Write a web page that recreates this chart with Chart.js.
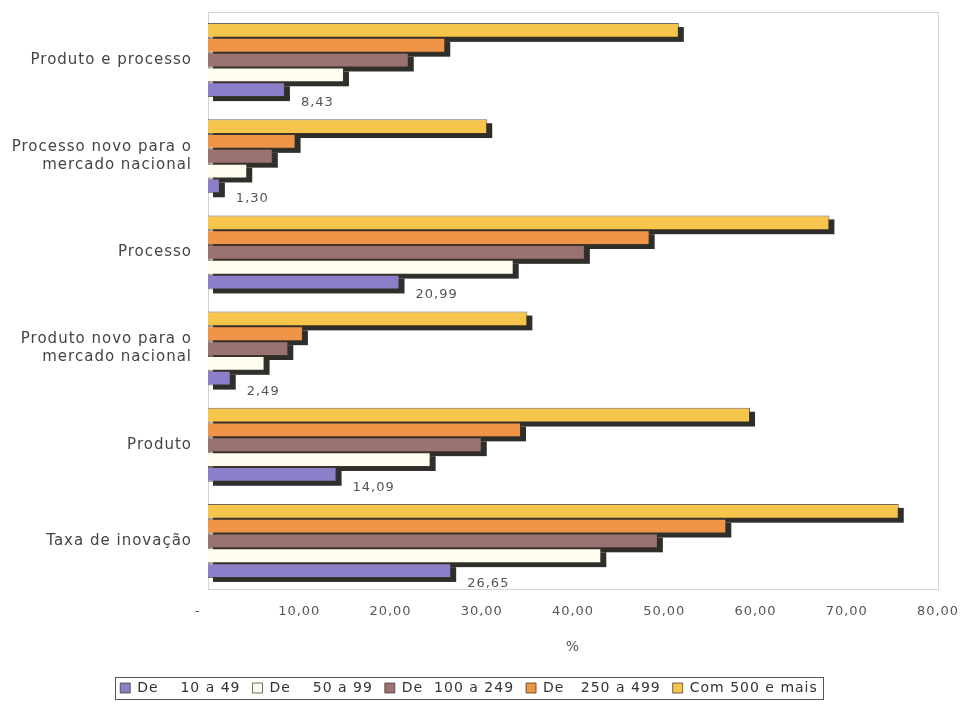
<!DOCTYPE html>
<html>
<head>
<meta charset="utf-8">
<script src="https://cdn.jsdelivr.net/npm/chart.js@4/dist/chart.umd.min.js"></script>
<style>
    html, body { margin: 0; padding: 0; background: #fff; }
    #wrap { width: 965px; height: 705px; }
</style>
</head>
<body>
<div id="wrap"><canvas id="bar-chart"></canvas></div>
<script>
// categorie (dall'alto in basso)
var categories = [
    'Produto e processo',
    ['Processo novo para o', 'mercado nacional'],
    'Processo',
    ['Produto novo para o', 'mercado nacional'],
    'Produto',
    'Taxa de inovação'
];

var seriesNames = ['De    10 a 49', 'De    50 a 99', 'De  100 a 249', 'De   250 a 499', 'Com 500 e mais'];

var de10a49 = [8.43, 1.30, 20.99, 2.49, 14.09, 26.65];
var de50a99 = [14.9, 4.3, 33.5, 6.2, 24.4, 43.1];
var de100a249 = [22.0, 7.1, 41.3, 8.8, 30.0, 49.3];
var de250a499 = [26.0, 9.6, 48.4, 10.4, 34.3, 56.8];
var com500 = [51.6, 30.6, 68.1, 35.0, 59.4, 75.7];

var xTicks = [0, 10, 20, 30, 40, 50, 60, 70, 80];

var colors = ['#8b7fc9', '#fffdf0', '#9b7272', '#ef9548', '#f6c54c'];

var font = 'DejaVu Sans';

function formatNum(v) {
    if (v === 0) return '-    ';
    return v.toFixed(2).replace('.', ',');
}

// il font dell'originale e' piu' largo
var spacingPlugin = {
    id: 'spacing',
    beforeLayout: function (chart) { chart.ctx.letterSpacing = '1px'; },
    beforeDraw: function (chart) { chart.ctx.letterSpacing = '1px'; }
};

// ombra scura sotto le barre
var shadowPlugin = {
    id: 'barShadow',
    beforeDatasetsDraw: function (chart) {
        var ctx = chart.ctx;
        ctx.save();
        ctx.fillStyle = '#2e2e2a';
        chart.data.datasets.forEach(function (ds, i) {
            var meta = chart.getDatasetMeta(i);
            meta.data.forEach(function (bar) {
                var p = bar.getProps(['x', 'y', 'base', 'height'], true);
                ctx.fillRect(p.base + 5, p.y - p.height / 2 + 4, p.x - p.base, p.height);
            });
        });
        ctx.restore();
    }
};

// cornice area grafico + box legenda + etichette serie piccola
var framePlugin = {
    id: 'frame',
    beforeDraw: function (chart) {
        var a = chart.chartArea;
        var ctx = chart.ctx;
        ctx.save();
        ctx.strokeStyle = '#d4d4d4';
        ctx.lineWidth = 1;
        ctx.strokeRect(a.left + 0.5, a.top + 0.5, a.right - a.left, a.bottom - a.top);
        ctx.restore();
    },
    afterDraw: function (chart) {
        var ctx = chart.ctx;
        var boxes = chart.legend.legendHitBoxes;
        if (boxes && boxes.length) {
            var l = boxes[0].left, r = boxes[0].left + boxes[0].width;
            var t = boxes[0].top, b = boxes[0].top + boxes[0].height;
            boxes.forEach(function (h) {
                l = Math.min(l, h.left);
                r = Math.max(r, h.left + h.width);
                t = Math.min(t, h.top);
                b = Math.max(b, h.top + h.height);
            });
            ctx.save();
            ctx.strokeStyle = '#555';
            ctx.lineWidth = 1;
            ctx.strokeRect(Math.round(l - 5) + 0.5, Math.round(t - 4) + 0.5, Math.round(r - l + 10), Math.round(b - t + 8));
            ctx.restore();
        }
        // etichette solo per "De 10 a 49"
        var idx = 4;
        var meta = chart.getDatasetMeta(idx);
        ctx.save();
        ctx.fillStyle = '#555';
        ctx.font = '13px "' + font + '"';
        ctx.textAlign = 'left';
        ctx.textBaseline = 'middle';
        meta.data.forEach(function (bar, i) {
            var p = bar.getProps(['x', 'y'], true);
            ctx.fillText(formatNum(chart.data.datasets[idx].data[i]), p.x + 16, p.y + 13);
        });
        ctx.restore();
    }
};

function makeBarChart() {
    var ctx = document.getElementById('bar-chart');
    var values = [com500, de250a499, de100a249, de50a99, de10a49];
    var names = seriesNames.slice().reverse();
    var cols = colors.slice().reverse();
    var datasets = [];
    for (var i = 0; i < values.length; i++) {
        datasets.push({
            label: names[i],
            data: values[i],
            backgroundColor: cols[i],
            borderColor: 'rgba(70,55,40,0.75)',
            borderWidth: 1,
            barPercentage: 1,
            categoryPercentage: 0.77
        });
    }

    var chart = new Chart(ctx, {
        type: 'bar',
        data: {
            labels: categories,
            datasets: datasets
        },
        options: {
            indexAxis: 'y',
            responsive: true,
            maintainAspectRatio: false,
            animation: false,
            layout: { padding: { top: 12, right: 27, bottom: 0, left: 0 } },
            scales: {
                x: {
                    min: 0,
                    max: 80,
                    afterBuildTicks: function (scale) {
                        scale.ticks = xTicks.map(function (v) { return { value: v }; });
                    },
                    afterFit: function (scale) {
                        scale.height = 80;
                        scale.paddingLeft = 0;
                        scale.paddingRight = 0;
                    },
                    grid: { display: false, drawTicks: false },
                    border: { display: false },
                    ticks: {
                        padding: 15,
                        color: '#555',
                        font: { family: font, size: 13 },
                        callback: function (v) { return formatNum(v); }
                    },
                    title: {
                        display: true,
                        text: '%',
                        color: '#555',
                        font: { family: font, size: 14 },
                        padding: { top: 4, bottom: 13 }
                    }
                },
                y: {
                    afterFit: function (scale) {
                        scale.width = 208;
                        scale.paddingTop = 0;
                        scale.paddingBottom = 0;
                    },
                    grid: { display: false, drawTicks: false },
                    border: { display: false },
                    ticks: {
                        padding: 16,
                        color: '#444',
                        font: { family: font, size: 15 }
                    }
                }
            },
            plugins: {
                legend: {
                    position: 'bottom',
                    reverse: true,
                    labels: {
                        boxWidth: 10,
                        boxHeight: 10,
                        padding: 12,
                        color: '#333',
                        font: { family: font, size: 14 }
                    }
                },
                tooltip: { enabled: false }
            }
        },
        plugins: [spacingPlugin, shadowPlugin, framePlugin]
    });
}

makeBarChart();
</script>
</body>
</html>
